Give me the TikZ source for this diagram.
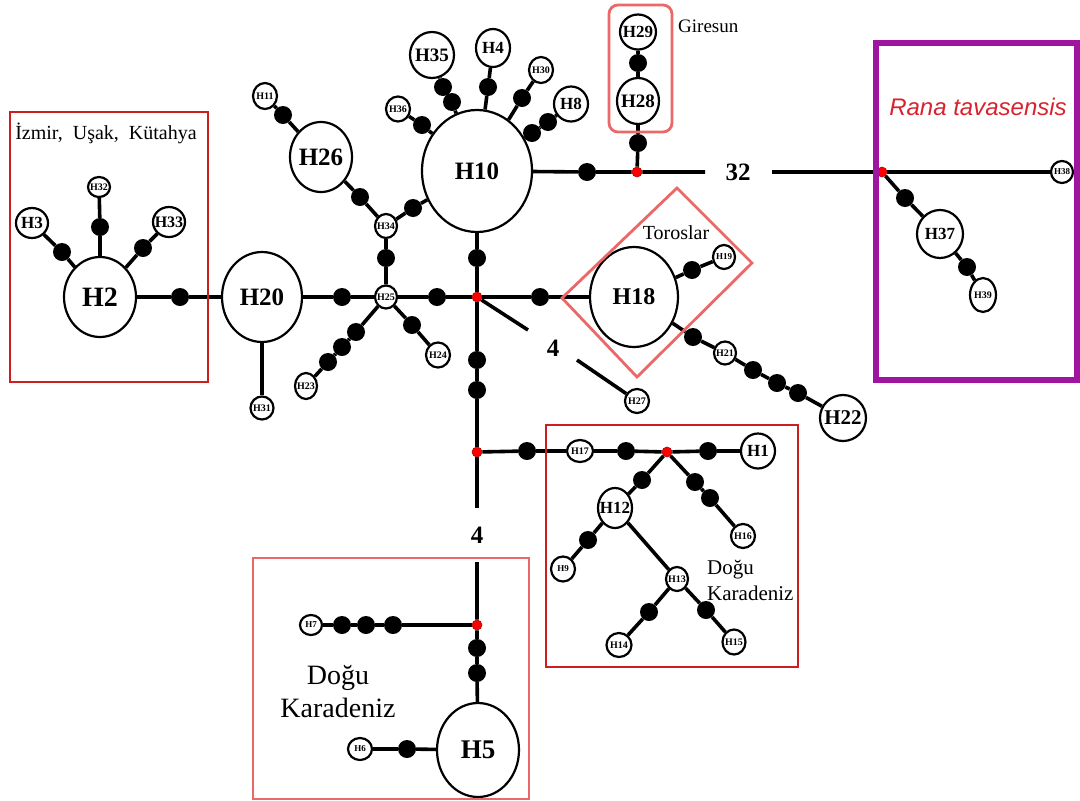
\documentclass[tikz,border=0pt]{standalone}
\usepackage{fontspec}
\setmainfont{Liberation Serif}
\newfontfamily\latinname{Liberation Sans}
\usetikzlibrary{shapes.geometric}

\definecolor{regionred}{RGB}{204,30,32}
\definecolor{regionpink}{RGB}{234,104,104}
\definecolor{outgroup}{RGB}{160,20,162}
\definecolor{speciesred}{RGB}{216,34,46}

\tikzset{
  hap/.style n args={3}{draw, ellipse, line width=2.2pt, fill=white, inner sep=-4pt,
    minimum width=#1, minimum height=#2, font=\bfseries\fontsize{#3}{#3}\selectfont},
  mut/.style={circle, fill=black, inner sep=0pt, minimum size=18},
  med/.style={circle, fill=red, draw=red!70!black, line width=0.6pt, inner sep=0pt, minimum size=10},
  link/.style={line width=3.6pt},
  zone/.style={line width=2.8pt},
  regionlabel/.style={font=\fontsize{#1}{#1}\selectfont, inner sep=0pt},
  mutcount/.style={font=\bfseries\fontsize{25}{25}\selectfont, inner sep=0pt},
}

\begin{document}
\begin{tikzpicture}[x=1pt, y=-1pt]
\useasboundingbox (0,0) rectangle (1080,801);

% haplotypes
\node[hap={72}{80}{28}] (H2) at (100,297) {H2};
\node[hap={80}{90}{25}] (H20) at (262,297) {H20};
\node[hap={32}{30}{17}] (H3) at (32,223) {H3};
\node[hap={22}{20}{10}] (H32) at (99,187) {H32};
\node[hap={32}{30}{16}] (H33) at (169,222) {H33};
\node[hap={23}{23}{10}] (H31) at (262,408) {H31};
\node[hap={24}{26}{10}] (H11) at (265,96) {H11};
\node[hap={62}{70}{25}] (H26) at (321,157) {H26};
\node[hap={110}{122}{25}] (H10) at (477,171) {H10};
\node[hap={44}{46}{19}] (H35) at (432,55) {H35};
\node[hap={34}{38}{17}] (H4) at (493,48) {H4};
\node[hap={24}{26}{10}] (H30) at (541,70) {H30};
\node[hap={34}{35}{17}] (H8) at (571,104) {H8};
\node[hap={24}{25}{10}] (H36) at (398,109) {H36};
\node[hap={22}{24}{10}] (H34) at (386,226) {H34};
\node[hap={22}{23}{10}] (H25) at (386,297) {H25};
\node[hap={36}{35}{17}] (H29) at (638,32) {H29};
\node[hap={42}{46}{19}] (H28) at (638,101) {H28};
\node[hap={22}{22}{9}] (H38) at (1062,172) {H38};
\node[hap={46}{48}{17}] (H37) at (940,234) {H37};
\node[hap={26}{34}{10}] (H39) at (983,295) {H39};
\node[hap={88}{100}{24}] (H18) at (634,297) {H18};
\node[hap={22}{24}{9}] (H19) at (724,257) {H19};
\node[hap={22}{23}{10}] (H21) at (725,353) {H21};
\node[hap={46}{46}{21}] (H22) at (843,418) {H22};
\node[hap={24}{24}{10}] (H27) at (637,401) {H27};
\node[hap={22}{26}{10}] (H23) at (306,386) {H23};
\node[hap={24}{25}{10}] (H24) at (438,355) {H24};
\node[hap={26}{22}{10}] (H17) at (580,451) {H17};
\node[hap={34}{35}{17}] (H1) at (758,451) {H1};
\node[hap={34}{40}{17}] (H12) at (615,508) {H12};
\node[hap={24}{24}{10}] (H16) at (743,536) {H16};
\node[hap={24}{25}{9}] (H9) at (563,569) {H9};
\node[hap={22}{24}{10}] (H13) at (677,579) {H13};
\node[hap={25}{24}{10}] (H14) at (619,645) {H14};
\node[hap={23}{25}{10}] (H15) at (734,642) {H15};
\node[hap={22}{20}{9}] (H7) at (311,625) {H7};
\node[hap={24}{22}{9}] (H6) at (360,749) {H6};
\node[hap={82}{94}{27}] (H5) at (478,750) {H5};

% mutation steps
\foreach \n/\x/\y in {a1/180/297, a2/62/252, a3/100/227, a4/143/248, a5/342/297,
    a6/437/297, a7/540/297, a8/386/258, a9/360/197, a10/413/208, a11/283/115,
    a12/422/125, a13/452/102, a14/443/87, a15/488/87, a16/522/98, a17/532/133,
    a18/548/122, a19/477/258, a20/587/172, a21/638/143, a22/638/63, a23/905/198,
    a24/967/267, a25/356/332, a26/342/347, a27/328/362, a28/412/325, a29/477/360,
    a30/477/390, a31/692/270, a32/693/337, a33/753/370, a34/777/383, a35/798/393,
    a36/527/451, a37/626/451, a38/708/451, a39/642/480, a40/588/540, a41/695/482,
    a42/710/498, a43/649/612, a44/706/610, a45/393/625, a46/366/625, a47/342/625,
    a48/477/648, a49/477/673, a50/407/749}
  \node[mut] (\n) at (\x,\y) {};

% median vectors
\foreach \n/\x/\y in {j1/477/297, j2/637/172, j3/882/172, j4/477/452, j5/667/452, j6/477/625}
  \node[med] (\n) at (\x,\y) {};

% ends of the shortened branches
\coordinate (g1) at (705,172);
\coordinate (g2) at (772,172);
\coordinate (g3) at (528,330);
\coordinate (g4) at (577,360);
\coordinate (g5) at (477,508);
\coordinate (g6) at (477,562);

\draw[link] (H3) -- (a2) -- (H2);
\draw[link] (H32) -- (a3) -- (H2);
\draw[link] (H33) -- (a4) -- (H2);
\draw[link] (H2) -- (a1) -- (H20) -- (a5) -- (H25) -- (a6) -- (j1) -- (a7) -- (H18);
\draw[link] (H20) -- (H31);
\draw[link] (H25) -- (a8) -- (H34) -- (a9) -- (H26) -- (a11) -- (H11);
\draw[link] (H34) -- (a10) -- (H10);
\draw[link] (H10) -- (a12) -- (H36);
\draw[link] (H10) -- (a13) -- (a14) -- (H35);
\draw[link] (H10) -- (a15) -- (H4);
\draw[link] (H10) -- (a16) -- (H30);
\draw[link] (H10) -- (a17) -- (a18) -- (H8);
\draw[link] (H10) -- (a19) -- (j1) -- (a29) -- (a30) -- (j4) -- (g5);
\draw[link] (H10) -- (a20) -- (j2) -- (g1);
\draw[link] (g2) -- (j3) -- (H38);
\draw[link] (j2) -- (a21) -- (H28) -- (a22) -- (H29);
\draw[link] (j3) -- (a23) -- (H37) -- (a24) -- (H39);
\draw[link] (H25) -- (a25) -- (a26) -- (a27) -- (H23);
\draw[link] (H25) -- (a28) -- (H24);
\draw[link] (j1) -- (g3);
\draw[link] (g4) -- (H27);
\draw[link] (H18) -- (a31) -- (H19);
\draw[link] (H18) -- (a32) -- (H21) -- (a33) -- (a34) -- (a35) -- (H22);
\draw[link] (j4) -- (a36) -- (H17) -- (a37) -- (j5) -- (a38) -- (H1);
\draw[link] (j5) -- (a39) -- (H12) -- (a40) -- (H9);
\draw[link] (j5) -- (a41) -- (a42) -- (H16);
\draw[link] (H12) -- (H13) -- (a43) -- (H14);
\draw[link] (H13) -- (a44) -- (H15);
\draw[link] (g6) -- (j6) -- (a48) -- (a49) -- (H5) -- (a50) -- (H6);
\draw[link] (j6) -- (a45) -- (a46) -- (a47) -- (H7);

% step counts on the long branches
\node[mutcount] (n32) at (738,172) {32};
\node[mutcount] (n4a) at (553,348) {4};
\node[mutcount] (n4b) at (477,535) {4};

% regions
\draw[zone, regionred] (10,112) rectangle (208,382);
\draw[zone, regionred] (546,425) rectangle (798,667);
\draw[zone, regionpink] (253,558) rectangle (529,799);
\draw[zone, regionpink, rounded corners=9] (609,5) rectangle (672,132);
\draw[zone, regionpink] (562,298) -- (677,188) -- (752,263) -- (637,377) -- cycle;
\draw[outgroup, line width=6pt] (876,43) rectangle (1077,380);

\node[regionlabel=20] (izmir) at (106,133) {İzmir, \ Uşak, \ Kütahya};
\node[regionlabel=19, anchor=west] (giresun) at (678,26) {Giresun};
\node[regionlabel=20] (toros) at (676,233) {Toroslar};
\node[regionlabel=21, anchor=west, align=left] (karadeniz1) at (707,580) {Doğu\\[5pt]Karadeniz};
\node[regionlabel=28, align=center] (karadeniz2) at (338,692) {Doğu\\[5pt]Karadeniz};
\node[font=\latinname\itshape\fontsize{24}{24}\selectfont, text=speciesred, inner sep=0pt] (species) at (978,107) {Rana tavasensis};
\end{tikzpicture}
\end{document}
